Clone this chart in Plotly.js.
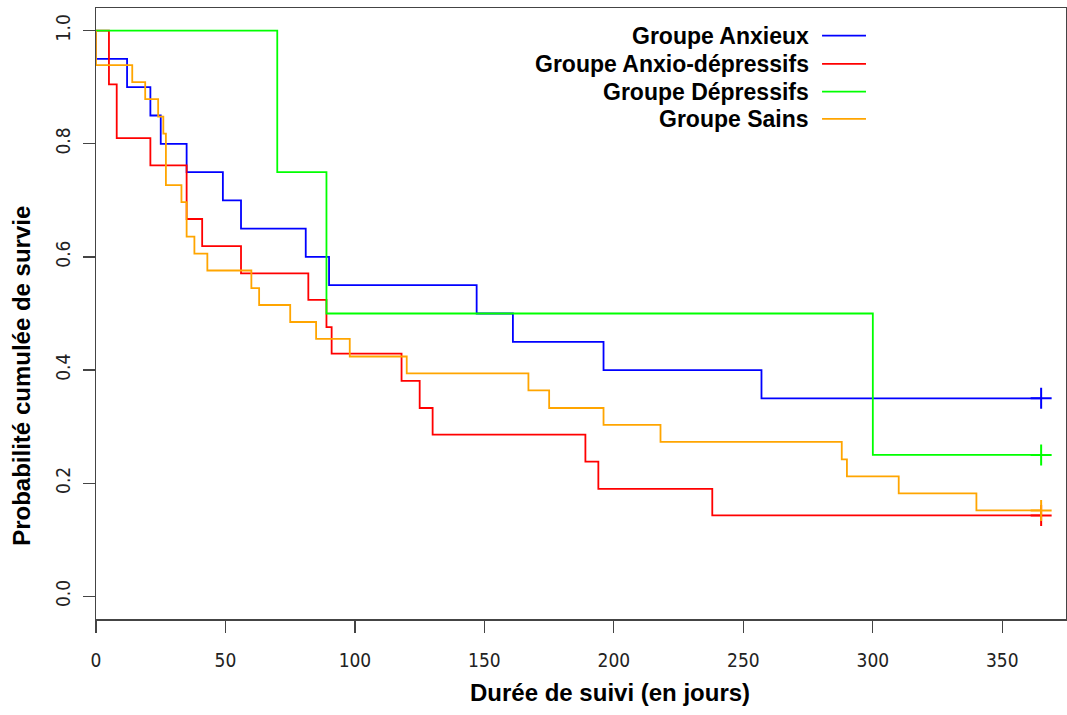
<!DOCTYPE html>
<html>
<head>
<meta charset="utf-8">
<script src="https://cdn.plot.ly/plotly-3.0.1.min.js"></script>
<style>
html,body{margin:0;padding:0;background:#fff;}
#chart{width:1067px;height:715px;}
</style>
</head>
<body>
<div id="chart"></div>
<script>
// Group names (legend order)
var groupNames = ["Groupe Anxieux", "Groupe Anxio-dépressifs", "Groupe Dépressifs", "Groupe Sains"];
var groupColors = ["#0000FF", "#FF0000", "#00FF00", "#FFA500"];

// Kaplan-Meier step data (time in days, cumulative survival)
var anxieuxTime = [0, 0, 12, 21, 25, 35, 49, 56, 81, 90, 147, 161, 196, 257, 365];
var anxieuxSurv = [1, 0.95, 0.90, 0.85, 0.80, 0.75, 0.70, 0.65, 0.60, 0.55, 0.50, 0.45, 0.40, 0.35, 0.35];

var anxioTime = [0, 5, 8, 21, 35, 41, 56, 82, 89, 91, 118, 125, 130, 189, 194, 238, 365];
var anxioSurv = [1, 0.905, 0.810, 0.762, 0.667, 0.619, 0.571, 0.524, 0.476, 0.429, 0.381, 0.333, 0.286, 0.238, 0.190, 0.143, 0.143];

var depressifsTime = [0, 70, 89, 300, 365];
var depressifsSurv = [1, 0.75, 0.50, 0.25, 0.25];

var sainsTime = [0, 0, 14, 19, 24, 26, 27, 33, 35, 38, 43, 60, 63, 75, 85, 98, 120, 167, 175, 196, 218, 288, 290, 310, 340, 365];
var sainsSurv = [1, 0.939, 0.909, 0.879, 0.848, 0.818, 0.727, 0.697, 0.636, 0.606, 0.576, 0.545, 0.515, 0.485, 0.455, 0.424, 0.394, 0.364, 0.333, 0.303, 0.273, 0.242, 0.212, 0.182, 0.152, 0.152];

// Axis ticks and titles
var xTicks = [0, 50, 100, 150, 200, 250, 300, 350];
var yTicks = [0.0, 0.2, 0.4, 0.6, 0.8, 1.0];
var yTickText = ["0.0", "0.2", "0.4", "0.6", "0.8", "1.0"];
var xTitle = "Durée de suivi (en jours)";
var yTitle = "Probabilité cumulée de survie";

var series = [
  [anxieuxTime, anxieuxSurv],
  [anxioTime, anxioSurv],
  [depressifsTime, depressifsSurv],
  [sainsTime, sainsSurv]
];

var traces = [];
series.forEach(function (s, i) {
  traces.push({
    type: "scatter", mode: "lines",
    x: s[0], y: s[1],
    line: {shape: "hv", color: groupColors[i], width: 1.8},
    name: groupNames[i], showlegend: false, hoverinfo: "skip"
  });
});
// censor marks at the last follow-up time
series.forEach(function (s, i) {
  var n = s[0].length;
  traces.push({
    type: "scatter", mode: "markers",
    x: [s[0][n - 1]], y: [s[1][n - 1]],
    marker: {symbol: "cross-thin-open", size: 15, color: groupColors[i], line: {color: groupColors[i], width: 2}},
    showlegend: false, hoverinfo: "skip"
  });
});

var axisColor = "#444";
var tickFont = {family: "Liberation Sans Narrow, DejaVu Sans Condensed, Liberation Sans, Arial, sans-serif", size: 19, color: "#222"};
var titleFont = {family: "Liberation Sans, Arial, sans-serif", size: 24, color: "#000", weight: "bold"};

// Legend built as annotations + shapes (text left, line sample right)
var annotations = [];
var shapes = [];
var legendY = [0.9547, 0.9085, 0.8632, 0.8186];
groupNames.forEach(function (name, i) {
  annotations.push({
    xref: "paper", yref: "paper", x: 0.737, y: legendY[i],
    xanchor: "right", yanchor: "middle", showarrow: false,
    text: name, font: {family: "Liberation Sans, Arial, sans-serif", size: 23, color: "#000", weight: "bold"}
  });
  shapes.push({
    type: "line", xref: "paper", yref: "paper",
    x0: 0.7485, x1: 0.7938, y0: legendY[i], y1: legendY[i],
    line: {color: groupColors[i], width: 1.8}
  });
});
// axis titles (placed as in the reference)
annotations.push({
  xref: "paper", yref: "paper", x: 0.530, y: -0.121,
  xanchor: "center", yanchor: "middle", showarrow: false,
  text: xTitle, font: titleFont
});
annotations.push({
  xref: "paper", yref: "paper", x: -0.0763, y: 0.398,
  xanchor: "center", yanchor: "middle", showarrow: false, textangle: -90,
  text: yTitle, font: titleFont
});

var layout = {
  width: 1067, height: 715,
  margin: {l: 96, r: 1, t: 8, b: 96},
  paper_bgcolor: "#fff", plot_bgcolor: "#fff",
  showlegend: false,
  xaxis: {
    range: [0, 374.6], tickmode: "array", tickvals: xTicks,
    showgrid: false, zeroline: false,
    showline: true, mirror: true, linecolor: axisColor, linewidth: 1.5,
    ticks: "outside", ticklen: 12, tickwidth: 1.2, tickcolor: axisColor,
    tickfont: tickFont, ticklabelstandoff: 12
  },
  yaxis: {
    range: [-0.04, 1.04], tickmode: "array", tickvals: yTicks, ticktext: yTickText,
    showgrid: false, zeroline: false,
    showline: true, mirror: true, linecolor: axisColor, linewidth: 1.5,
    ticks: "outside", ticklen: 12, tickwidth: 1.2, tickcolor: axisColor,
    tickfont: tickFont, tickangle: -90, ticklabelstandoff: 5
  },
  annotations: annotations,
  shapes: shapes
};

Plotly.newPlot("chart", traces, layout, {staticPlot: true, displayModeBar: false});
</script>
</body>
</html>
